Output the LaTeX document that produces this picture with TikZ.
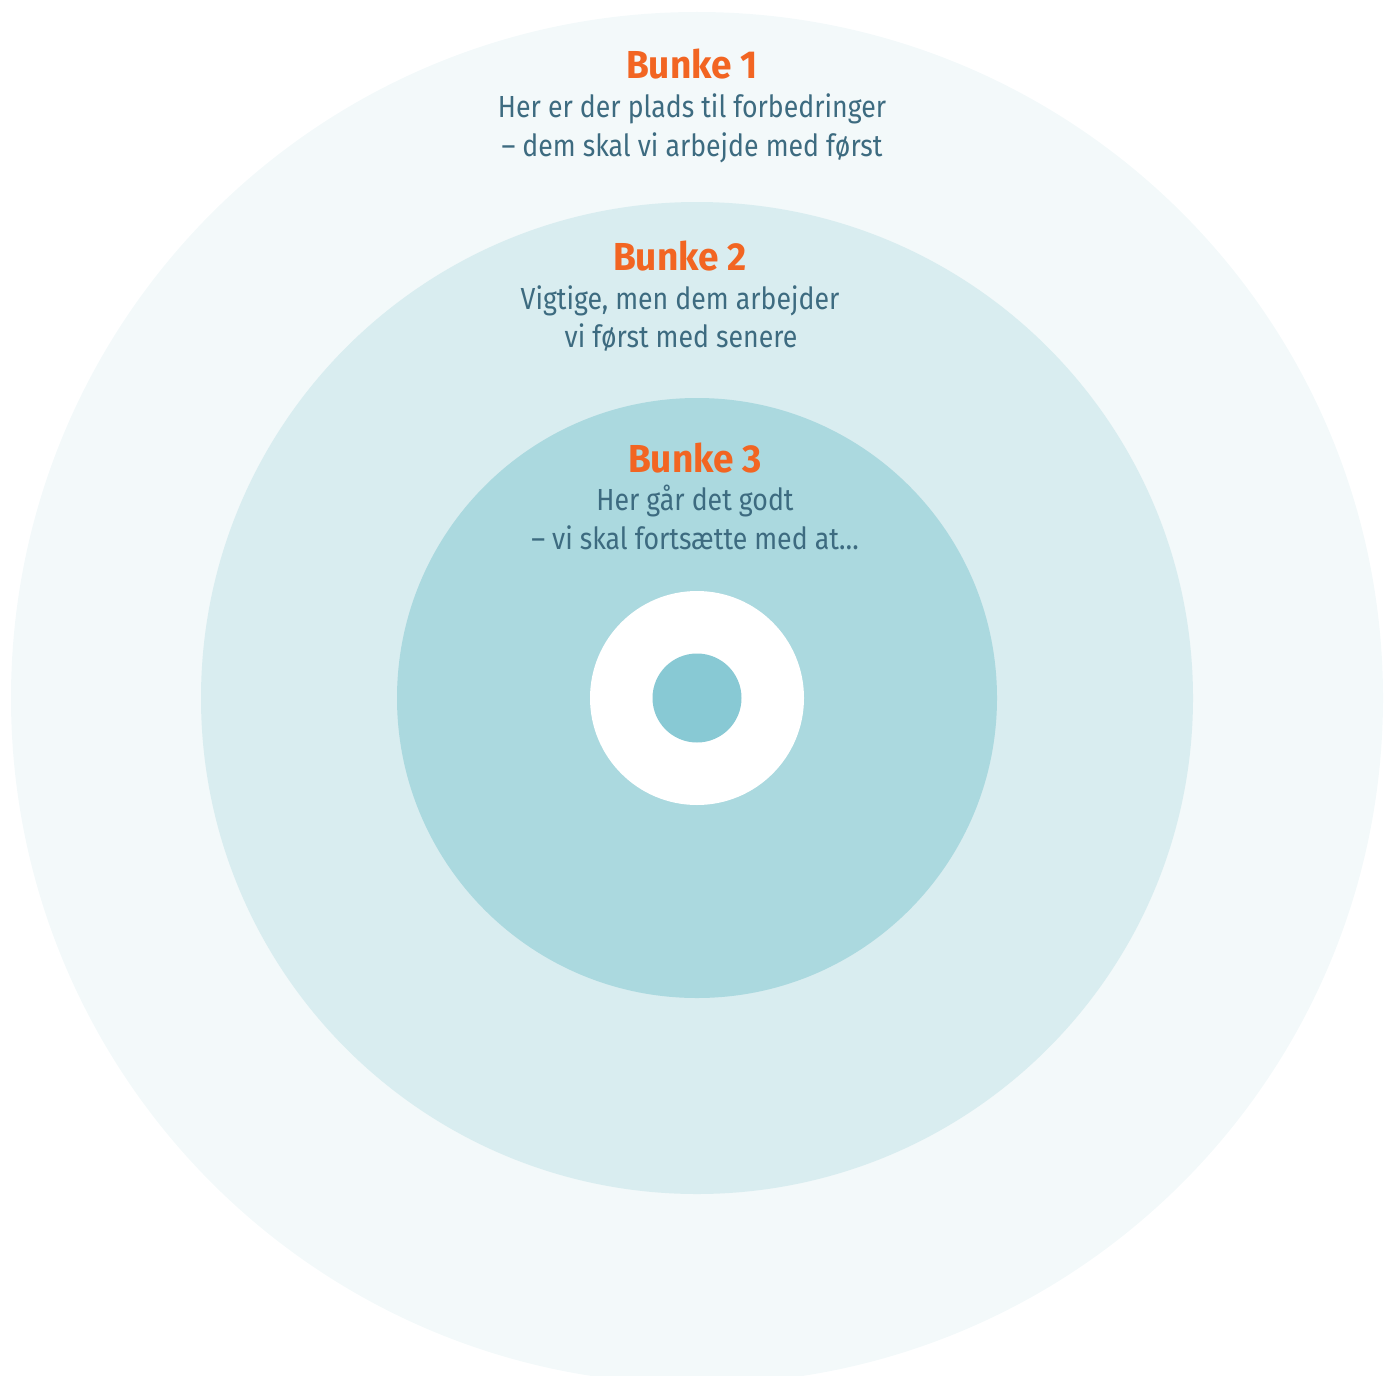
\documentclass[tikz,border=0pt]{standalone}
\usepackage{fontspec}
\setmainfont{Fira Sans}[FakeStretch=0.875, BoldFeatures={FakeStretch=0.95}]
\definecolor{ringA}{HTML}{F3F9FA}
\definecolor{ringB}{HTML}{D9EDF0}
\definecolor{ringC}{HTML}{ABD9DF}
\definecolor{core}{HTML}{88C9D4}
\definecolor{txt}{HTML}{3D6B80}
\definecolor{hl}{HTML}{F26522}
\tikzset{
  ttl/.style={anchor=base, text=hl, font=\fontsize{39}{42}\selectfont\bfseries, inner sep=0pt},
  line/.style={anchor=base, text=txt, font=\fontsize{30.5}{36}\selectfont, inner sep=0pt},
}
\begin{document}
\begin{tikzpicture}[x=1pt,y=-1pt]
\useasboundingbox (0,0) rectangle (1388,1375);
\clip (0,0) rectangle (1388,1375);
\fill[ringA] (697,698) circle (686);
\fill[ringB] (697,698) circle (496);
\fill[ringC] (697,698) circle (300);
\fill[white] (697,698) circle (107);
\fill[core] (697,698) circle (44.5);
\node[ttl] (t1) at (692,79) {Bunke 1};
\node[line] (a1) at (692,118) {Her er der plads til forbedringer};
\node[line] (a2) at (692,157) {– dem skal vi arbejde med først};
\node[ttl] (t2) at (680,270) {Bunke 2};
\node[line] (b1) at (680,309) {Vigtige, men dem arbejder};
\node[line] (b2) at (681,347) {vi først med senere};
\node[ttl] (t3) at (695,472) {Bunke 3};
\node[line] (c1) at (695,510) {Her går det godt};
\node[line] (c2) at (695,549) {– vi skal fortsætte med at…};
\end{tikzpicture}
\end{document}
